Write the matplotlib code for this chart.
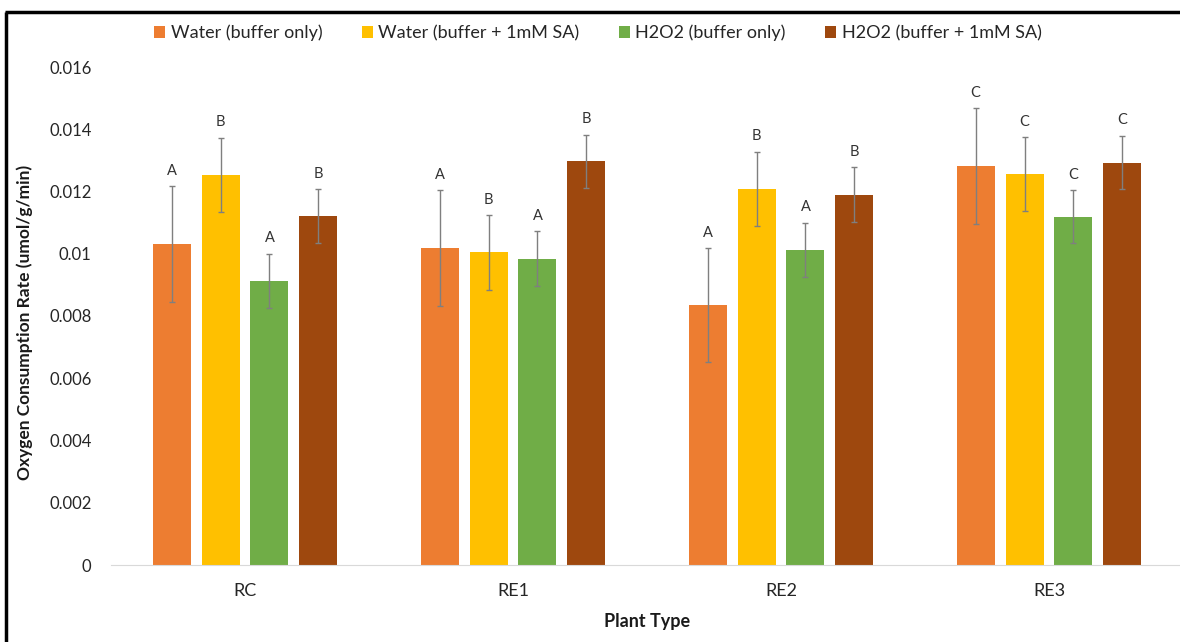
import numpy as np
import matplotlib
matplotlib.use("Agg")
import matplotlib.pyplot as plt
from matplotlib.lines import Line2D

plt.rcParams['font.family'] = ['Lato', 'DejaVu Sans']

# data
plants = ["RC", "RE1", "RE2", "RE3"]
series = ["Water (buffer only)", "Water (buffer + 1mM SA)",
          "H2O2 (buffer only)", "H2O2 (buffer + 1mM SA)"]
water_only = [0.01031, 0.01019, 0.00835, 0.01281]
water_sa = [0.01253, 0.01005, 0.01208, 0.01255]
h2o2_only = [0.00913, 0.00984, 0.01013, 0.01119]
h2o2_sa = [0.01121, 0.01297, 0.01190, 0.01293]
err_water_only = [0.00187, 0.00186, 0.00184, 0.00186]
err_water_sa = [0.00120, 0.00120, 0.00120, 0.00119]
err_h2o2_only = [0.00087, 0.00088, 0.00087, 0.00086]
err_h2o2_sa = [0.00086, 0.00086, 0.00088, 0.00086]
letters_water_only = ["A", "A", "A", "C"]
letters_water_sa = ["B", "B", "B", "C"]
letters_h2o2_only = ["A", "A", "A", "C"]
letters_h2o2_sa = ["B", "B", "B", "C"]

colors = ["#ED7D31", "#FFC000", "#70AD47", "#9E480E"]
values = [water_only, water_sa, h2o2_only, h2o2_sa]
errors = [err_water_only, err_water_sa, err_h2o2_only, err_h2o2_sa]
letters = [letters_water_only, letters_water_sa, letters_h2o2_only, letters_h2o2_sa]

fig = plt.figure(figsize=(11.8, 6.42), dpi=100)
ax = fig.add_axes([111/1180, 77/642, 1072/1180, 498/642])

x = np.arange(len(plants))
step = 0.1828
width = 0.1418
for i in range(4):
    pos = x + (i - 1.5) * step
    ax.bar(pos, values[i], width, color=colors[i], label=series[i], zorder=2)
    ax.errorbar(pos, values[i], yerr=errors[i], fmt='none', ecolor='#7f7f7f',
                elinewidth=1.0, capsize=2, capthick=1.0, zorder=3)
    for p, v, e, t in zip(pos, values[i], errors[i], letters[i]):
        ax.annotate(t, (p, v + e), xytext=(0, 6), textcoords='offset points',
                    ha='center', va='bottom', fontsize=10.5, color='#333333')

ax.set_xlim(-0.5, 3.5)
ax.set_ylim(0, 0.016)
ax.set_yticks(np.arange(0, 0.0161, 0.002))
ax.set_yticklabels(["0", "0.002", "0.004", "0.006", "0.008", "0.01",
                    "0.012", "0.014", "0.016"])
ax.set_xticks(x)
ax.set_xticklabels(plants)
ax.tick_params(axis='y', length=0, pad=14, labelsize=12, labelcolor='#262626')
ax.tick_params(axis='x', length=0, pad=13, labelsize=13, labelcolor='#262626')
for s in ['top', 'right', 'left']:
    ax.spines[s].set_visible(False)
ax.spines['bottom'].set_color('#d9d9d9')

fig.text(25/1180, 1 - 322/642, "Oxygen Consumption Rate (umol/g/min)",
         rotation=90, ha='center', va='center', fontsize=12.5, fontweight='bold',
         color='#1a1a1a')
fig.text(647/1180, 1 - 622/642, "Plant Type", ha='center', va='center',
         fontsize=13, fontweight='bold', color='#1a1a1a')

fig.legend(loc='center', bbox_to_anchor=(598/1180, 1 - 33/642), ncol=4,
           frameon=False, fontsize=13, handlelength=0.6, handleheight=0.6,
           handletextpad=0.3, columnspacing=2.2, labelcolor='#262626')

# black frame on left and top as in the screenshot
fig.add_artist(Line2D([6/1180, 6/1180], [0, 1 - 12/642], color='black', lw=2.5,
                      solid_capstyle='butt', transform=fig.transFigure))
fig.add_artist(Line2D([5/1180, 1], [1 - 12/642, 1 - 12/642], color='black', lw=2.5,
                      solid_capstyle='butt', transform=fig.transFigure))

fig.savefig("out.png", dpi=100)
